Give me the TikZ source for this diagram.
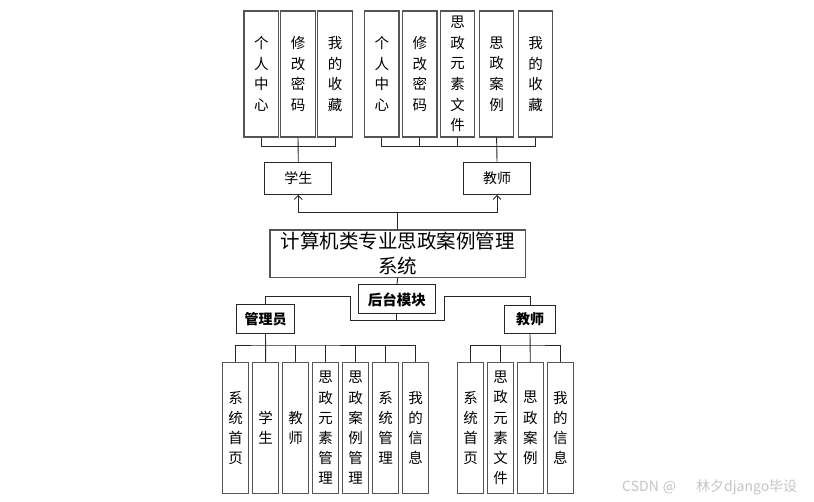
\documentclass[tikz,border=0pt]{standalone}
\usepackage{fontspec}
\setmainfont{Noto Sans CJK SC}
\usetikzlibrary{arrows.meta}
\definecolor{boxgray}{HTML}{555555}
\definecolor{linegray}{HTML}{262626}
\definecolor{wm}{HTML}{C4C4C4}
\tikzset{
  topbox/.style={draw=boxgray, line width=1.2pt, fill=white, minimum width=34.5pt, minimum height=126pt, inner sep=0pt, align=center, font=\fontsize{14.5}{20.7}\selectfont},
  botbox/.style={draw=boxgray, line width=1.2pt, fill=white, minimum width=26pt, minimum height=130.6pt, inner sep=0pt, align=center, font=\fontsize{14.5}{20.2}\selectfont},
  rolebox/.style={draw=linegray, line width=1pt, fill=white, inner sep=0pt, align=center},
  conn/.style={draw=linegray, line width=0.9pt},
  tip/.style={-{Straight Barb[length=4pt,width=8pt]}}
}
\begin{document}
\begin{tikzpicture}[x=1pt,y=-1pt]
\useasboundingbox (0,0) rectangle (814,502);
% top student boxes
\node[topbox] (s1) at (261.3,74) {个\\人\\中\\心};
\node[topbox] (s2) at (298,74) {修\\改\\密\\码};
\node[topbox] (s3) at (335,74) {我\\的\\收\\藏};
% top teacher boxes
\node[topbox] (t1) at (381.8,74) {个\\人\\中\\心};
\node[topbox] (t2) at (419.8,74) {修\\改\\密\\码};
\node[topbox] (t3) at (457.6,74) {思\\政\\元\\素\\文\\件};
\node[topbox] (t4) at (496.6,74) {思\\政\\案\\例};
\node[topbox] (t5) at (535.6,74) {我\\的\\收\\藏};
% role boxes top
\node[rolebox, minimum width=67.3pt, minimum height=32.3pt, font=\fontsize{14}{16}\selectfont] (stu) at (298.3,178.2) {学生};
\node[rolebox, minimum width=67.4pt, minimum height=32.3pt, font=\fontsize{14}{16}\selectfont] (tea) at (497,178.2) {教师};
% main
\node[rolebox, line width=1.2pt, draw=boxgray, minimum width=255.3pt, minimum height=47.3pt, font=\fontsize{19.5}{25}\selectfont] (main) at (397.7,253.7) {计算机类专业思政案例管理\\系统};
\node[rolebox, minimum width=76.3pt, minimum height=29pt, font=\fontsize{14.5}{16}\selectfont\bfseries] (hou) at (396.9,299.5) {后台模块};
\node[rolebox, minimum width=58pt, minimum height=28.5pt, font=\fontsize{14}{16}\selectfont\bfseries] (adm) at (265.5,319.2) {管理员};
\node[rolebox, minimum width=51.3pt, minimum height=28pt, font=\fontsize{14}{16}\selectfont\bfseries] (tb) at (530,319.3) {教师};
% bottom admin boxes
\node[botbox] (a1) at (235.7,428) {系\\统\\首\\页};
\node[botbox] (a2) at (265.7,428) {学\\生};
\node[botbox] (a3) at (295.7,428) {教\\师};
\node[botbox] (a4) at (325.7,428) {思\\政\\元\\素\\管\\理};
\node[botbox] (a5) at (355.7,428) {思\\政\\案\\例\\管\\理};
\node[botbox] (a6) at (385.7,428) {系\\统\\管\\理};
\node[botbox] (a7) at (415.7,428) {我\\的\\信\\息};
% bottom teacher boxes
\node[botbox] (b1) at (470.5,428) {系\\统\\首\\页};
\node[botbox] (b2) at (500.5,428) {思\\政\\元\\素\\文\\件};
\node[botbox] (b3) at (530.3,428) {思\\政\\案\\例};
\node[botbox] (b4) at (560.3,428) {我\\的\\信\\息};
% coordinates
\coordinate (sj) at (298,146.7);
\coordinate (tj) at (496.6,146.7);
\coordinate (mj) at (397.7,212.3);
\coordinate (hl) at (350,320.7);
\coordinate (la) at (350,296.7);
\coordinate (hr) at (444,320.7);
\coordinate (ra) at (444,296.7);
\coordinate (aj) at (265.7,345);
\coordinate (bj) at (530.3,345);
% top connectors
\draw[conn] (s1.south) |- (sj) -| (s3.south);
\draw[conn] (s2.south) -- (stu.north);
\draw[conn] (t1.south) |- (tj) -| (t5.south);
\draw[conn] (t2.south) -- (t2.south |- tj);
\draw[conn] (t3.south) -- (t3.south |- tj);
\draw[conn] (t4.south) -- (tea.north);
% arrows
\draw[conn] (main.north) -- (mj);
\draw[conn, tip] (mj) -| (stu.south);
\draw[conn, tip] (mj) -| (tea.south);
% main to back
\draw[conn] (main.south) -- (hou.north);
\draw[conn] (hou.south) |- (hl) -- (la) -| (adm.north);
\draw[conn] (hou.south) |- (hr) -- (ra) -| (tb.north);
% bottom brackets
\draw[conn] (a1.north) |- (aj) -| (a7.north);
\draw[conn] (adm.south) -- (a2.north);
\foreach \n in {a3,a4,a5,a6} \draw[conn] (\n.north) -- (\n.north |- aj);
\draw[conn] (b1.north) |- (bj) -| (b4.north);
\draw[conn] (tb.south) -- (b3.north);
\draw[conn] (b2.north) -- (b2.north |- bj);
% watermark
\node[text=wm, font=\fontsize{14}{15}\selectfont, anchor=west, inner sep=0pt] (wmk) at (622,487) {CSDN\hspace{4pt}@\hspace{20pt}林夕django毕设};
\end{tikzpicture}
\end{document}
